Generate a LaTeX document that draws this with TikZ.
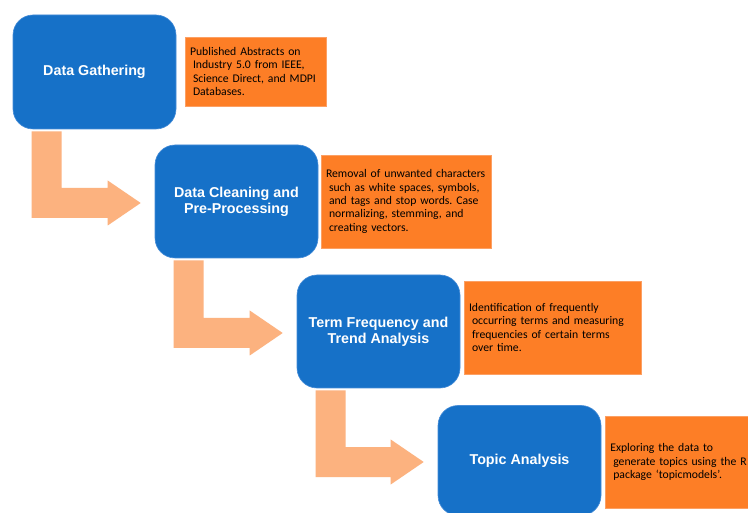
\documentclass[tikz,border=0pt]{standalone}
\usepackage{fontspec}
\setmainfont{Liberation Sans}
\newfontfamily\notefont{Carlito}
\usetikzlibrary{calc}
\definecolor{stepblue}{RGB}{22,113,200}
\definecolor{stepblueedge}{RGB}{70,140,215}
\definecolor{noteorange}{RGB}{253,126,38}
\definecolor{noteedge}{RGB}{252,160,100}
\definecolor{arrowpeach}{RGB}{252,178,127}
\tikzset{
  stepbox/.style={rectangle, rounded corners=20pt, fill=stepblue, draw=stepblueedge, line width=0.6pt,
    minimum width=163pt, text=white, align=center,
    font=\fontsize{14.3}{16}\selectfont\bfseries},
  notebox/.style={rectangle, fill=noteorange, draw=noteedge, line width=0.6pt,
    inner xsep=5pt, align=left, text=black,
    font=\notefont\fontsize{11.7}{13.3}\selectfont\frenchspacing},
}
\newcommand\fl[1]{\mbox{#1}}
\newcommand\hl[1]{\mbox{\hspace*{3pt}#1}}
\newcommand\steparrow[2]{%
  \fill[arrowpeach] let \p1=($(#1.south west)+(19,2)$), \p2=($(#2.west)+(-14,1.5)$) in
    (\x1,\y1) -- (\x1+30pt,\y1) -- (\x1+30pt,\y2+15pt) -- (\x2-33pt,\y2+15pt)
    -- (\x2-33pt,\y2+22.5pt) -- (\x2,\y2) -- (\x2-33pt,\y2-22.5pt)
    -- (\x2-33pt,\y2-15pt) -- (\x1,\y2-15pt) -- cycle;}
\begin{document}
\begin{tikzpicture}[x=1pt,y=-1pt]
\useasboundingbox (0,0) rectangle (748,513);
\clip (0,0) rectangle (748,513);
\fill[white] (0,0) rectangle (748,513);

\node[stepbox, minimum height=114pt] (b1) at (94.5,72) {Data Gathering};
\node[stepbox, minimum height=113pt] (b2) at (236.5,201.5) {Data Cleaning and\\Pre-Processing};
\node[stepbox, minimum height=113pt] (b3) at (378.5,331.5) {Term Frequency and\\Trend Analysis};
\node[stepbox, minimum height=110pt] (b4) at (519.5,460.5) {Topic Analysis};

\node[notebox, minimum width=141pt, minimum height=69pt, text width=131pt] (n1) at (255.5,71.5)
  {\fl{Published Abstracts on}\\\hl{Industry 5.0 from IEEE,}\\\hl{Science Direct, and MDPI}\\\hl{Databases.}};
\node[notebox, minimum width=170pt, minimum height=93pt, text width=160pt] (n2) at (406,201.5)
  {\fl{Removal of unwanted characters}\\\hl{such as white spaces, symbols,}\\\hl{and tags and stop words. Case}\\\hl{normalizing, stemming, and}\\\hl{creating vectors.}};
\node[notebox, minimum width=177pt, minimum height=93pt, text width=167pt] (n3) at (552.5,327.5)
  {\fl{Identification of frequently}\\\hl{occurring terms and measuring}\\\hl{frequencies of certain terms}\\\hl{over time.}};
\node[notebox, minimum width=152pt, minimum height=92pt, text width=142pt, anchor=west] (n4) at (605,462)
  {\fl{Exploring the data to}\\\hl{generate topics using the R}\\\hl{package ‘topicmodels’.}};

\steparrow{b1}{b2}
\steparrow{b2}{b3}
\steparrow{b3}{b4}
\end{tikzpicture}
\end{document}
